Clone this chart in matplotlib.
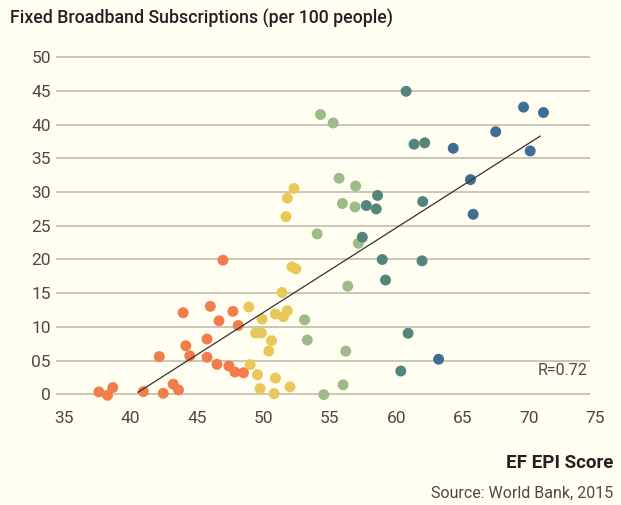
import matplotlib.pyplot as plt

# EF EPI score (x) vs fixed broadband subscriptions per 100 people (y), by group
orange_x = [37.6, 38.25, 38.65, 40.95, 42.15, 42.45, 43.2, 43.6, 43.95, 44.15, 44.45,
            45.75, 45.75, 46.0, 46.5, 46.65, 46.95, 47.4, 47.7, 47.85, 48.1, 48.5]
orange_y = [0.35, -0.15, 1.0, 0.4, 5.6, 0.15, 1.5, 0.65, 12.1, 7.2, 5.7,
            8.2, 5.5, 13.05, 4.45, 10.9, 19.9, 4.2, 12.3, 3.3, 10.2, 3.2]

yellow_x = [48.9, 49.0, 49.4, 49.55, 49.75, 49.85, 49.9, 50.4, 50.6, 50.8, 50.9,
            50.9, 51.4, 51.5, 51.7, 51.8, 51.8, 52.0, 52.15, 52.3, 52.45]
yellow_y = [12.95, 4.4, 9.1, 2.9, 0.85, 9.1, 11.15, 6.4, 7.95, 0.1, 2.4,
            11.9, 15.1, 11.5, 26.35, 29.1, 12.4, 1.1, 18.9, 30.55, 18.6]

green_x = [53.1, 53.3, 54.05, 54.3, 54.55, 55.25, 55.7, 55.95, 56.0, 56.2, 56.35,
           56.9, 56.95, 57.15]
green_y = [11.05, 8.05, 23.8, 41.5, -0.05, 40.25, 32.05, 28.3, 1.4, 6.4, 16.05,
           27.8, 30.9, 22.4]

teal_x = [57.45, 57.75, 58.5, 58.6, 58.95, 59.2, 60.35, 60.75, 60.9, 61.35, 61.95,
          62.0, 62.15]
teal_y = [23.3, 28.0, 27.5, 29.5, 20.0, 16.95, 3.45, 44.95, 9.05, 37.1, 19.8,
          28.6, 37.3]

blue_x = [63.2, 64.3, 65.6, 65.8, 67.5, 69.6, 70.1, 71.1]
blue_y = [5.2, 36.5, 31.85, 26.7, 38.95, 42.6, 36.1, 41.8]

trend_x = [40.55, 70.85]
trend_y = [0.3, 38.3]

x_ticks = [35, 40, 45, 50, 55, 60, 65, 70, 75]
y_ticks = [0, 5, 10, 15, 20, 25, 30, 35, 40, 45, 50]
y_labels = ['0', '05', '10', '15', '20', '25', '30', '35', '40', '45', '50']

bg = '#fffef0'
plt.rcParams['font.family'] = ['Roboto', 'DejaVu Sans']

fig = plt.figure(figsize=(6.21, 5.05), dpi=100, facecolor=bg)
ax = fig.add_axes([0.0887, 0.1992, 0.8762, 0.6941], facecolor=bg)

ax.hlines(y_ticks, 34.37, 74.61, color='#bfbeae', lw=1.2, zorder=1)

groups = [
    (orange_x, orange_y, '#f37c4b'),
    (yellow_x, yellow_y, '#e8c858'),
    (green_x, green_y, '#9dbb87'),
    (teal_x, teal_y, '#54857a'),
    (blue_x, blue_y, '#3e6e94'),
]
for gx, gy, c in groups:
    ax.scatter(gx, gy, s=62, color=c, edgecolors='none', zorder=3)

ax.plot(trend_x, trend_y, color='#333333', lw=0.9, zorder=4)
ax.text(74.45, 3.5, 'R=0.72', ha='right', va='center', fontsize=11.5,
        color='#4a4a4a')

ax.set_xlim(34.3, 75.3)
ax.set_ylim(-1.5, 50.5)
ax.set_xticks(x_ticks)
ax.set_yticks(y_ticks, y_labels)
ax.tick_params(length=0, labelsize=12.5, labelcolor='#4a4a4a')
ax.tick_params(axis='x', pad=5)
ax.tick_params(axis='y', pad=3)
for s in ax.spines.values():
    s.set_visible(False)

fig.text(0.016, 0.964, 'Fixed Broadband Subscriptions (per 100 people)',
         ha='left', va='center', fontsize=12.8, fontweight='medium', color='#222222')
fig.text(0.987, 0.083, 'EF EPI Score', ha='right', va='center',
         fontsize=13.5, fontweight='bold', color='#222222')
fig.text(0.987, 0.024, 'Source: World Bank, 2015', ha='right', va='center',
         fontsize=11.5, color='#4a4a4a')

plt.savefig('out.png', dpi=100, facecolor=bg)
